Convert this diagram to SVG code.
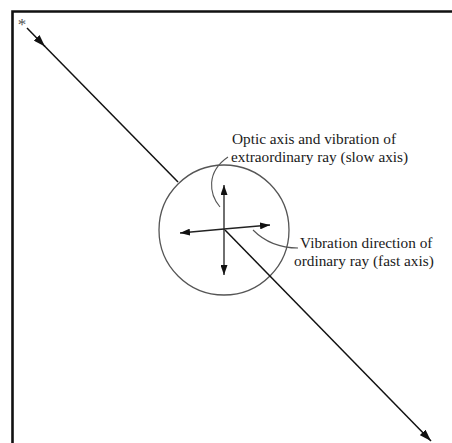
<svg xmlns="http://www.w3.org/2000/svg" width="452" height="443" viewBox="0 0 452 443">
  <style>
    .lbl { font-family: "Liberation Serif", "Times New Roman", serif; font-size: 15.3px; fill: #1a1a1a; }
    .ray { stroke: #111; stroke-width: 1.5; fill: none; }
    .axis { stroke: #222; stroke-width: 1.3; fill: none; }
    .lead { stroke: #555; stroke-width: 1.1; fill: none; }
  </style>
  <defs>
    <marker id="ah" viewBox="0 0 10 7" refX="10" refY="3.5" markerWidth="10" markerHeight="7" markerUnits="userSpaceOnUse" orient="auto">
      <path d="M0,0 L10,3.5 L0,7 z" fill="#111"/>
    </marker>
    <marker id="ahBig" viewBox="0 0 12 8" refX="12" refY="4" markerWidth="12" markerHeight="8" markerUnits="userSpaceOnUse" orient="auto">
      <path d="M0,0 L12,4 L0,8 z" fill="#111"/>
    </marker>
  </defs>
  <rect width="452" height="443" fill="#fff"/>
  <g id="frame">
    <path d="M12.5 443 V11.5 H452" stroke="#111" stroke-width="2.6" fill="none"/>
  </g>
  <g id="source">
    <text x="22" y="30" text-anchor="middle" style="font-family:'Liberation Serif',serif;font-size:17px;fill:#555">*</text>
  </g>
  <g id="crystal">
    <circle cx="224" cy="230" r="65" fill="none" stroke="#555" stroke-width="1.3"/>
  </g>
  <g id="label-slow">
    <text class="lbl" x="232" y="144">Optic axis and vibration of</text>
    <text class="lbl" x="231" y="162">extraordinary ray (slow axis)</text>
  </g>
  <g id="label-fast">
    <text class="lbl" x="300" y="248">Vibration direction of</text>
    <text class="lbl" x="294" y="266">ordinary ray (fast axis)</text>
  </g>
  <g id="connectors">
    <line class="ray" x1="27" y1="28" x2="45" y2="46.5" marker-end="url(#ahBig)"/>
    <line class="ray" x1="44" y1="45.5" x2="178" y2="182"/>
    <line class="ray" x1="225" y1="230" x2="431" y2="441" marker-end="url(#ahBig)"/>
    <line class="axis" x1="224" y1="230" x2="224" y2="185" marker-end="url(#ah)"/>
    <line class="axis" x1="224" y1="229" x2="224" y2="275" marker-end="url(#ah)"/>
    <line class="axis" x1="224" y1="229" x2="180" y2="233" marker-end="url(#ah)"/>
    <line class="axis" x1="224" y1="229" x2="270" y2="225" marker-end="url(#ah)"/>
    <path class="lead" d="M220 207 C209 194 206 172 228 157"/>
    <path class="lead" d="M253 230 C263 240 278 248 298 248"/>
  </g>
</svg>
